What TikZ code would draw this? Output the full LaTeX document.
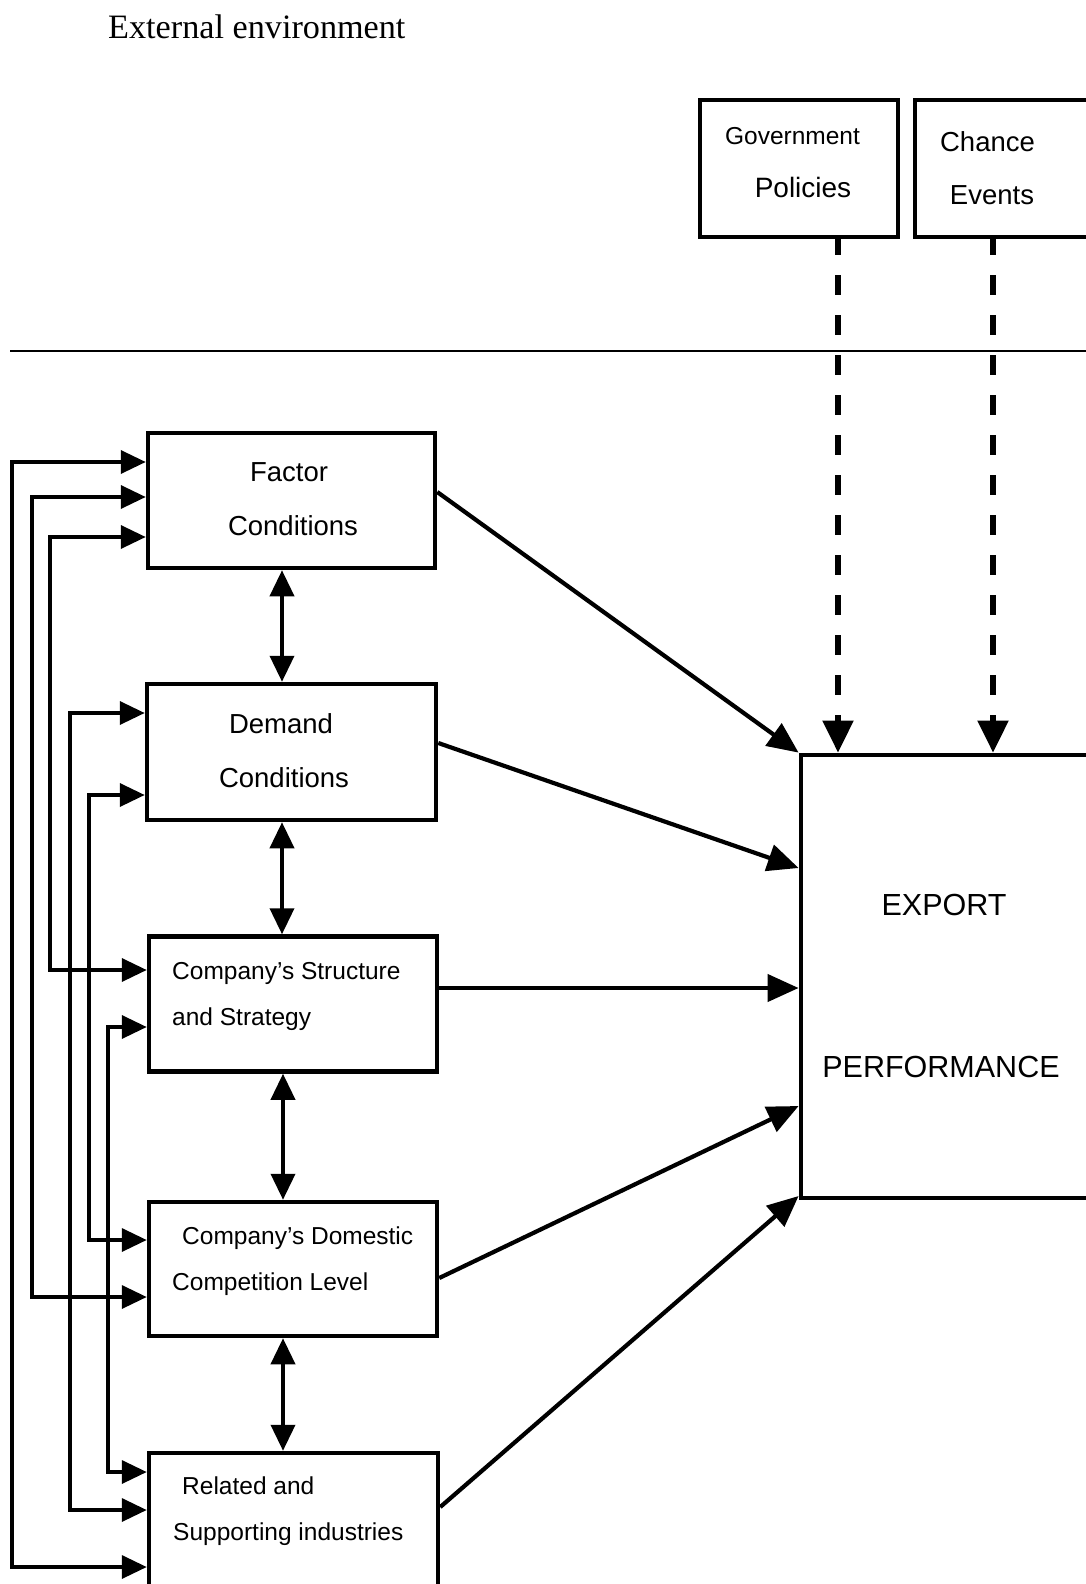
\documentclass[tikz,border=0pt]{standalone}
\usepackage{fontspec}
\setmainfont{Liberation Sans}
\newfontfamily\titlefont{Liberation Serif}
\usetikzlibrary{arrows.meta}
\begin{document}
\begin{tikzpicture}[x=1pt,y=-1pt,
    box/.style={draw,line width=4.5pt,minimum width=288pt,minimum height=135pt,inner sep=0pt},
    big/.style={font=\fontsize{27.5}{33}\selectfont,inner sep=0pt,anchor=base},
    small/.style={font=\fontsize{24.5}{29}\selectfont,inner sep=0pt,anchor=base west},
    huge/.style={font=\fontsize{30.5}{36}\selectfont,inner sep=0pt,anchor=base},
    fb/.style={line width=3.6pt,>={Triangle[length=25pt,width=23pt]},<->},
    vb/.style={line width=3.8pt,>={Triangle[length=26pt,width=24pt]},<->},
    ex/.style={line width=4.2pt,>={Triangle[length=31pt,width=27pt]},->},
    dsh/.style={line width=5.5pt,dash pattern=on 20pt off 20pt,dash phase=4pt,>={Triangle[length=32pt,width=30pt]},->}]
  \useasboundingbox (0,0) rectangle (1086,1584);
  \node[anchor=base west,inner sep=0pt,font=\titlefont\fontsize{34.2}{41}\selectfont] (ttl) at (108,39) {External environment};

  %% external boxes
  \node[box,minimum width=198pt,minimum height=137pt] (gov) at (799,168.5) {};
  \node[box,minimum width=195pt,minimum height=137pt] (chance) at (1012.5,168.5) {};
  \node[anchor=base,inner sep=0pt,font=\fontsize{24.5}{29}\selectfont] (gov1) at (792.5,145) {Government};
  \node[big,font=\fontsize{28}{33}\selectfont] (gov2) at (803,197) {Policies};
  \node[big] (ch1) at (987.5,151) {Chance};
  \node[big] (ch2) at (992,204) {Events};

  \draw[line width=2pt] (10,351) -- (1100,351);

  %% determinants
  \node[box,minimum width=287pt] (factor) at (291.5,500.5) {};
  \node[box,minimum width=289pt,minimum height=136pt] (demand) at (291.5,752) {};
  \node[box] (structure) at (293,1004) {};
  \node[box,minimum height=134pt] (domestic) at (293,1269) {};
  \node[box,minimum width=289pt,minimum height=145pt] (related) at (293.5,1525.5) {};

  \node[big] (f1) at (289,481) {Factor};
  \node[big] (f2) at (293,535) {Conditions};
  \node[big] (d1) at (281,733) {Demand};
  \node[big] (d2) at (284,787) {Conditions};
  \node[small] (s1) at (172,979) {Company’s Structure};
  \node[small] (s2) at (172,1025) {and Strategy};
  \node[small] (c1) at (182,1244) {Company’s Domestic};
  \node[small] (c2) at (172,1290) {Competition Level};
  \node[small] (r1) at (182,1494) {Related and};
  \node[small] (r2) at (173,1540) {Supporting industries};

  %% export performance
  \node[draw,line width=4.8pt,minimum width=309pt,minimum height=443pt] (export) at (955.5,976.5) {};
  \node[huge] (e1) at (944,915) {EXPORT};
  \node[huge] (e2) at (941,1077) {PERFORMANCE};

  %% dashed influences
  \draw[dsh] (gov.south -| 838,0) -- (export.north -| 838,0);
  \draw[dsh] (chance.south -| 993,0) -- (export.north -| 993,0);

  %% between boxes
  \draw[vb] (factor.south -| 282,0) -- (demand.north -| 282,0);
  \draw[vb] (demand.south -| 282,0) -- (structure.north -| 282,0);
  \draw[vb] (structure.south -| 283,0) -- (domestic.north -| 283,0);
  \draw[vb] (domestic.south -| 283,0) -- (related.north -| 283,0);

  %% to export
  \draw[ex] (factor.east |- 0,492) -- (export.north west);
  \draw[ex] (demand.east |- 0,743) -- (export.west |- 0,868);
  \draw[ex] (structure.east |- 0,988) -- (export.west |- 0,988);
  \draw[ex] (domestic.east |- 0,1278) -- (export.west |- 0,1106);
  \draw[ex] (related.east |- 0,1507) -- (export.west |- 0,1196);

  %% feedback lanes
  \foreach \lx/\a/\p/\b/\q in {12/factor/462/related/1567, 32/factor/497/domestic/1297,
      50/factor/537/structure/970, 70/demand/713/related/1510,
      89/demand/795/domestic/1240, 108/structure/1027/related/1472}
    \draw[fb] (\a.west |- 0,\p) -| (\lx,\q) -- (\b.west |- 0,\q);
\end{tikzpicture}
\end{document}
